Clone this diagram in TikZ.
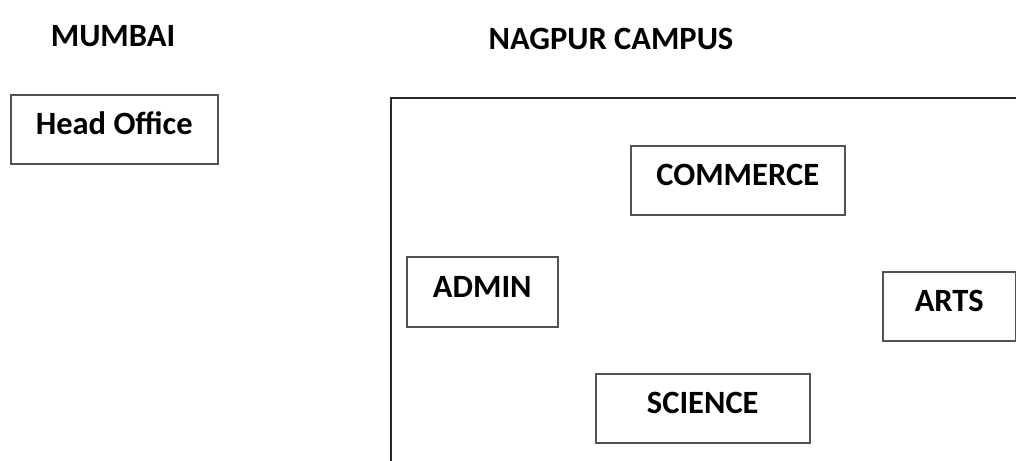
\documentclass[tikz,border=0pt]{standalone}
\usepackage{fontspec}
\setmainfont{Carlito}
\begin{document}
\begin{tikzpicture}[x=1pt,y=-1pt,
  lbl/.style={font=\fontsize{32.5}{38}\selectfont\bfseries, inner sep=0pt},
  bx/.style={draw=black!68, line width=1.5pt, font=\fontsize{32.5}{38}\selectfont\bfseries,
    inner sep=0pt, text height=21pt, text depth=10pt, anchor=north west}]
\useasboundingbox (0,0) rectangle (1016,460);
\node[lbl, anchor=base] (mumbai) at (113,46) {MUMBAI};
\node[lbl, anchor=base] (nagpur) at (611,49) {NAGPUR CAMPUS};
\node[bx, minimum width=207pt, minimum height=69pt] (head) at (10,94) {Head Office};
\node[bx, minimum width=214pt, minimum height=69pt] (commerce) at (630,145) {COMMERCE};
\node[bx, minimum width=151pt, minimum height=70pt] (admin) at (406,256) {ADMIN};
\node[bx, minimum width=133pt, minimum height=69pt] (arts) at (882,271) {ARTS};
\node[bx, minimum width=214pt, minimum height=69pt] (science) at (595,373) {SCIENCE};
\coordinate (cbl) at (391,461);
\coordinate (ctl) at (391,98);
\coordinate (ctr) at (1017,98);
\draw[line width=2pt, black!85] (cbl) -- (ctl) -- (ctr);
\end{tikzpicture}
\end{document}
